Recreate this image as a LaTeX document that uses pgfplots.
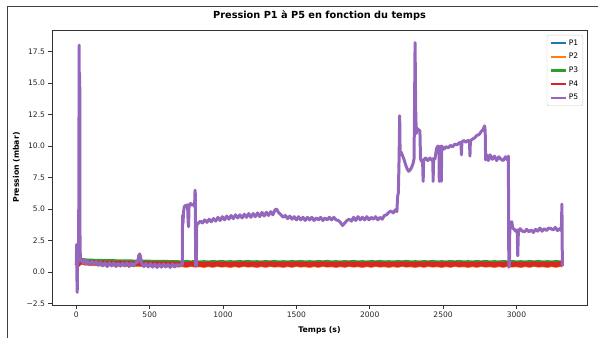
\documentclass[border=0pt]{standalone}
\usepackage{fontspec}
\setmainfont{DejaVu Sans}
\usepackage{pgfplots}
\pgfplotsset{compat=1.18}
\usepackage{pgfplotstable}
\definecolor{cA}{HTML}{1F77B4}
\definecolor{cB}{HTML}{FF7F0E}
\definecolor{cC}{HTML}{2CA02C}
\definecolor{cD}{HTML}{D62728}
\definecolor{cE}{HTML}{9467BD}

\pgfplotstableread{
t p1 p2 p3 p4
0 0.55 0.45 0.60 0.50
30 0.80 0.70 1.05 0.85
60 0.72 0.62 1.00 0.78
90 0.70 0.60 0.98 0.74
120 0.71 0.58 0.97 0.76
150 0.69 0.57 0.96 0.72
180 0.68 0.56 0.95 0.74
210 0.67 0.55 0.94 0.70
240 0.66 0.55 0.94 0.73
270 0.66 0.54 0.93 0.69
300 0.65 0.53 0.93 0.72
330 0.64 0.53 0.92 0.68
360 0.64 0.52 0.92 0.71
390 0.63 0.52 0.91 0.67
420 0.63 0.51 0.91 0.70
450 0.62 0.51 0.90 0.66
480 0.62 0.50 0.90 0.69
510 0.61 0.50 0.89 0.65
540 0.61 0.49 0.89 0.68
570 0.60 0.49 0.88 0.64
600 0.60 0.48 0.88 0.67
630 0.60 0.48 0.87 0.63
660 0.59 0.48 0.87 0.66
690 0.59 0.47 0.86 0.62
720 0.58 0.50 0.83 0.66
750 0.60 0.44 0.87 0.60
780 0.57 0.52 0.84 0.67
810 0.61 0.46 0.88 0.61
840 0.59 0.49 0.83 0.65
870 0.58 0.43 0.86 0.60
900 0.58 0.50 0.83 0.66
930 0.60 0.44 0.87 0.60
960 0.57 0.52 0.84 0.67
990 0.61 0.46 0.88 0.61
1020 0.59 0.49 0.83 0.65
1050 0.58 0.43 0.86 0.60
1080 0.58 0.50 0.83 0.66
1110 0.60 0.44 0.87 0.60
1140 0.57 0.52 0.84 0.67
1170 0.61 0.46 0.88 0.61
1200 0.59 0.49 0.83 0.65
1230 0.58 0.43 0.86 0.60
1260 0.58 0.50 0.83 0.66
1290 0.60 0.44 0.87 0.60
1320 0.57 0.52 0.84 0.67
1350 0.61 0.46 0.88 0.61
1380 0.59 0.49 0.83 0.65
1410 0.58 0.43 0.86 0.60
1440 0.58 0.50 0.83 0.66
1470 0.60 0.44 0.87 0.60
1500 0.57 0.52 0.84 0.67
1530 0.61 0.46 0.88 0.61
1560 0.59 0.49 0.83 0.65
1590 0.58 0.43 0.86 0.60
1620 0.58 0.50 0.83 0.66
1650 0.60 0.44 0.87 0.60
1680 0.57 0.52 0.84 0.67
1710 0.61 0.46 0.88 0.61
1740 0.59 0.49 0.83 0.65
1770 0.58 0.43 0.86 0.60
1800 0.58 0.50 0.83 0.66
1830 0.60 0.44 0.87 0.60
1860 0.57 0.52 0.84 0.67
1890 0.61 0.46 0.88 0.61
1920 0.59 0.49 0.83 0.65
1950 0.58 0.43 0.86 0.60
1980 0.58 0.50 0.83 0.66
2010 0.60 0.44 0.87 0.60
2040 0.57 0.52 0.84 0.67
2070 0.61 0.46 0.88 0.61
2100 0.59 0.49 0.83 0.65
2130 0.58 0.43 0.86 0.60
2160 0.58 0.50 0.83 0.66
2190 0.60 0.44 0.87 0.60
2220 0.57 0.52 0.84 0.67
2250 0.61 0.46 0.88 0.61
2280 0.59 0.49 0.83 0.65
2310 0.58 0.43 0.86 0.60
2340 0.58 0.50 0.83 0.66
2370 0.60 0.44 0.87 0.60
2400 0.57 0.52 0.84 0.67
2430 0.61 0.46 0.88 0.61
2460 0.59 0.49 0.83 0.65
2490 0.58 0.43 0.86 0.60
2520 0.58 0.50 0.83 0.66
2550 0.60 0.44 0.87 0.60
2580 0.57 0.52 0.84 0.67
2610 0.61 0.46 0.88 0.61
2640 0.59 0.49 0.83 0.65
2670 0.58 0.43 0.86 0.60
2700 0.58 0.50 0.83 0.66
2730 0.60 0.44 0.87 0.60
2760 0.57 0.52 0.84 0.67
2790 0.61 0.46 0.88 0.61
2820 0.59 0.49 0.83 0.65
2850 0.58 0.43 0.86 0.60
2880 0.58 0.50 0.83 0.66
2910 0.60 0.44 0.87 0.60
2940 0.57 0.52 0.84 0.67
2970 0.61 0.46 0.88 0.61
3000 0.59 0.49 0.83 0.65
3030 0.58 0.43 0.86 0.60
3060 0.58 0.50 0.83 0.66
3090 0.60 0.44 0.87 0.60
3120 0.57 0.52 0.84 0.67
3150 0.61 0.46 0.88 0.61
3180 0.59 0.49 0.83 0.65
3210 0.58 0.43 0.86 0.60
3240 0.58 0.50 0.83 0.66
3270 0.60 0.44 0.87 0.60
3300 0.57 0.52 0.84 0.67
3315 0.60 0.46 0.85 0.63
}\lowdata

\begin{document}
\begin{tikzpicture}
\path[use as bounding box] (0bp,0bp) rectangle (598bp,338bp);
\draw[line width=0.8bp, black!75] (7bp,0bp) -- (7bp,332bp) -- (598bp,332bp);
\begin{axis}[
  at={(52bp,33bp)}, anchor=south west,
  scale only axis, width=535bp, height=275bp,
  xmin=-166, xmax=3481, ymin=-2.6, ymax=19.2,
  xtick={0,500,1000,1500,2000,2500,3000},
  xticklabels={0,500,1000,1500,2000,2500,3000},
  ytick={-2.5,0,2.5,5,7.5,10,12.5,15,17.5},
  yticklabels={−2.5,0.0,2.5,5.0,7.5,10.0,12.5,15.0,17.5},
  tick pos=left, tick align=outside, major tick length=3.5bp,
  tick style={black!80, line width=0.6bp},
  axis line style={black!80, line width=0.6bp},
  ticklabel style={font=\fontsize{7.6}{9}\selectfont, text=black!85},
  title={Pression P1 à P5 en fonction du temps},
  title style={font=\bfseries\fontsize{9.8}{11}\selectfont, at={(axis description cs:0.5,1)}, anchor=base, yshift=6bp},
  xlabel={Temps (s)},
  ylabel={Pression (mbar)},
  xlabel style={font=\bfseries\fontsize{7.8}{9}\selectfont, at={(axis description cs:0.5,-0.0909)}, anchor=center},
  ylabel style={font=\bfseries\fontsize{7.8}{9}\selectfont, at={(axis description cs:-0.0664,0.5)}, anchor=center},
  legend cell align=left,
  legend style={at={(axis description cs:1,1)}, anchor=north east, xshift=-4bp, yshift=-5bp,
    draw=black!20, rounded corners=2bp, fill=white, font=\fontsize{7.6}{9}\selectfont,
    row sep=2.6bp, inner sep=2.5bp},
  legend image code/.code={\draw[#1, line width=2.4bp] (0bp,0bp) -- (15bp,0bp);},
]
\addplot[cA, line width=2.4bp] table[x=t, y=p1] {\lowdata};
\addlegendentry{P1}
\addplot[cB, line width=2.4bp] table[x=t, y=p2] {\lowdata};
\addlegendentry{P2}
\addplot[cC, line width=2.4bp] table[x=t, y=p3] {\lowdata};
\addlegendentry{P3}
\addplot[cD, line width=5bp] table[x=t, y=p4] {\lowdata};
\addlegendentry{P4}
\addplot[cE, line width=3bp, line join=round] coordinates {
(0,0.6) (2,2.2) (4,-0.5) (6,-1.6) (8,1.5) (11,0.7) (14,1.2) (17,6) (19,18.0) (21,11) (23,15.8) (25,2) (28,1.1)
(35,0.9) (45,0.75) (55,1.0) (65,0.65) (75,0.9) (90,0.6) (105,0.85) (120,0.65) (135,0.85) (150,0.55) (165,0.8)
(180,0.5) (195,0.75) (210,0.45) (225,0.75) (240,0.5) (255,0.75) (270,0.45) (285,0.7) (300,0.48) (315,0.72)
(330,0.5) (345,0.75) (360,0.45) (375,0.72) (390,0.5) (405,0.75) (418,0.8) (425,1.3) (432,1.45) (438,1.2)
(445,0.7) (460,0.45) (475,0.7) (490,0.42) (505,0.68) (520,0.4) (535,0.65) (550,0.38) (565,0.62) (580,0.4)
(595,0.65) (610,0.42) (625,0.62) (640,0.38) (655,0.65) (670,0.42) (685,0.62) (700,0.48) (715,0.64) (722,0.6)
(724,4.5) (727,3.9) (731,4.8) (736,5.2) (745,5.3) (752,5.2) (758,5.35) (762,4.0) (765,3.6) (768,5.2)
(778,5.45) (790,5.3) (800,5.4) (806,5.2) (809,6.5) (811,6.2) (813,0.5) (818,0.5) (821,3.9) (830,3.85)
(845,4.05) (860,3.9) (875,4.15) (890,3.95) (905,4.2) (920,4.0) (935,4.25) (950,4.05) (965,4.35) (980,4.1)
(995,4.4) (1010,4.15) (1025,4.45) (1040,4.2) (1055,4.5) (1070,4.25) (1085,4.55) (1100,4.3) (1115,4.55)
(1130,4.3) (1145,4.6) (1160,4.35) (1175,4.65) (1190,4.35) (1205,4.65) (1220,4.4) (1235,4.7) (1250,4.4)
(1265,4.75) (1280,4.45) (1295,4.75) (1310,4.5) (1325,4.8) (1340,4.55) (1355,4.95) (1365,5.0) (1380,4.7)
(1395,4.55) (1410,4.35) (1425,4.5) (1440,4.25) (1455,4.45) (1470,4.2) (1485,4.4) (1500,4.15) (1515,4.4)
(1530,4.15) (1545,4.35) (1560,4.1) (1575,4.35) (1590,4.15) (1605,4.35) (1620,4.1) (1635,4.3) (1650,4.15)
(1665,4.35) (1680,4.1) (1695,4.3) (1710,4.15) (1725,4.35) (1740,4.15) (1755,4.35) (1770,4.15) (1785,4.1)
(1800,3.95) (1815,3.7) (1830,3.9) (1845,4.1) (1860,4.2) (1875,4.05) (1890,4.35) (1905,4.1) (1920,4.4)
(1935,4.15) (1950,4.35) (1965,4.15) (1980,4.4) (1995,4.15) (2010,4.35) (2025,4.2) (2040,4.4) (2055,4.15)
(2070,4.35) (2085,4.2) (2100,4.5) (2115,4.55) (2130,4.75) (2145,4.85) (2160,4.7) (2175,4.95) (2185,4.8)
(2190,6.0) (2195,6.3) (2200,9.0) (2204,12.4) (2207,9.4) (2215,9.5) (2225,9.2) (2235,8.9) (2245,8.5)
(2255,8.2) (2265,8.0) (2275,8.1) (2285,8.3) (2295,8.6) (2302,9.0) (2306,14) (2309,18.2) (2313,13)
(2317,11.0) (2322,11.4) (2332,11.3) (2342,11.2) (2346,9.0) (2352,8.8) (2360,8.9) (2364,7.2) (2368,8.9)
(2380,9.05) (2395,8.85) (2410,9.05) (2425,8.85) (2430,9.0) (2432,7.2) (2435,8.9) (2445,9.0) (2455,9.8)
(2465,10.0) (2472,9.9) (2474,7.2) (2477,9.9) (2486,10.0) (2488,7.2) (2491,10.0) (2505,9.75) (2520,9.95)
(2535,9.85) (2550,10.05) (2565,9.95) (2580,10.15) (2595,10.1) (2610,10.25) (2622,10.3) (2625,9.3) (2628,10.3)
(2640,10.45) (2655,10.3) (2670,10.45) (2680,10.4) (2683,9.2) (2686,10.4) (2700,10.55) (2715,10.65)
(2730,10.85) (2745,10.9) (2760,11.15) (2772,11.3) (2783,11.6) (2787,11.2) (2790,8.9) (2798,9.3)
(2808,8.85) (2820,9.3) (2835,8.95) (2850,9.2) (2865,8.85) (2880,9.15) (2895,8.95) (2910,8.85) (2925,9.15)
(2938,8.9) (2945,9.2) (2948,0.4) (2952,0.5) (2955,3.7) (2960,3.9) (2968,4.0) (2975,3.5) (2985,3.4)
(2995,3.25) (3005,3.35) (3009,1.3) (3013,3.2) (3025,3.45) (3040,3.25) (3055,3.2) (3070,3.4) (3085,3.2)
(3100,3.35) (3115,3.15) (3130,3.4) (3145,3.25) (3160,3.5) (3175,3.25) (3190,3.45) (3205,3.3) (3220,3.5)
(3235,3.45) (3250,3.35) (3265,3.55) (3280,3.3) (3295,3.45) (3306,3.3) (3310,5.4) (3313,0.5)
};
\addlegendentry{P5}
\end{axis}
\end{tikzpicture}
\end{document}
